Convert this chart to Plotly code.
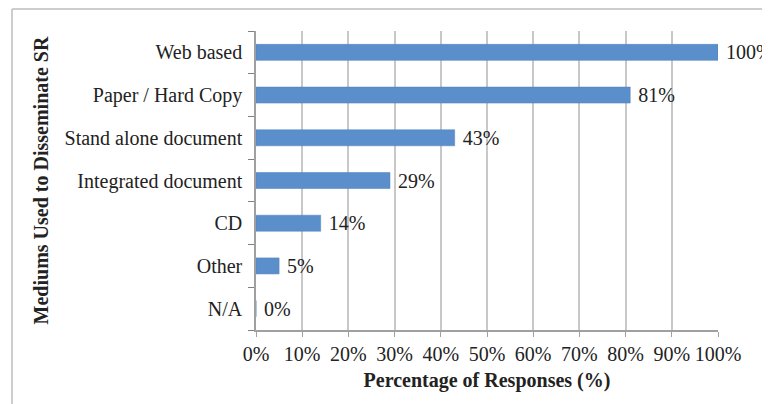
import plotly.graph_objects as go

categories = ["Web based", "Paper / Hard Copy", "Stand alone document",
              "Integrated document", "CD", "Other", "N/A"]
values = [100, 81, 43, 29, 14, 5, 0]
tick_vals = [0, 10, 20, 30, 40, 50, 60, 70, 80, 90, 100]
tick_text = [f"{v}%" for v in tick_vals]
labels = [f"\u00a0{v}%" for v in values]

serif = "Liberation Serif, Times New Roman, serif"

# page body has an 8px margin, so the figure is made 8px smaller
W, H = 762, 396
L, R, T, B = 248, 52, 23, 74
pw, ph = W - L - R, H - T - B

fig = go.Figure(
    data=[go.Bar(
        y=categories, x=values, orientation="h",
        marker=dict(color="#5B8FCB", line=dict(color="#4F7FBA", width=0.5)),
        text=labels, textposition="outside", cliponaxis=False,
        constraintext="none",
        textfont=dict(family=serif, size=20, color="#222"),
    )]
)

fig.update_layout(
    width=W, height=H,
    margin=dict(l=L, r=R, t=T, b=B, autoexpand=False),
    paper_bgcolor="white", plot_bgcolor="white",
    bargap=0.625, showlegend=False,
    font=dict(family=serif, size=20, color="#222"),
)

fig.update_xaxes(
    range=[0, 100], tickvals=tick_vals, ticktext=tick_text,
    showgrid=True, gridcolor="#C8C8C8", gridwidth=1.5,
    showline=True, linecolor="#A0A0A0", linewidth=1.5,
    ticks="outside", ticklen=5, tickcolor="#A0A0A0",
    zeroline=False, automargin=False,
    title=dict(text="<b>Percentage of Responses (%)</b>",
               font=dict(family=serif, size=20), standoff=9),
    tickfont=dict(family=serif, size=20),
)
fig.update_yaxes(
    categoryorder="array", categoryarray=categories[::-1],
    showline=True, linecolor="#A0A0A0", linewidth=1.5,
    ticks="outside", ticklen=6, tickcolor="#808080", tickson="boundaries",
    showgrid=False, automargin=False, ticklabelstandoff=8,
    title=dict(text="<b>Mediums Used to Disseminate SR</b>",
               font=dict(family=serif, size=20), standoff=11),
    tickfont=dict(family=serif, size=20),
)

# outer frame (top and left edges visible in the reference)
fx = (4 - L) / pw
fy = 1 + (T - 1) / ph
fig.add_shape(type="line", xref="paper", yref="paper",
              x0=fx, x1=(W - L) / pw, y0=fy, y1=fy,
              line=dict(color="#BDBDBD", width=1.5))
fig.add_shape(type="line", xref="paper", yref="paper",
              x0=fx, x1=fx, y0=-B / ph, y1=fy,
              line=dict(color="#BDBDBD", width=1.5))

fig.write_html("out.html")
